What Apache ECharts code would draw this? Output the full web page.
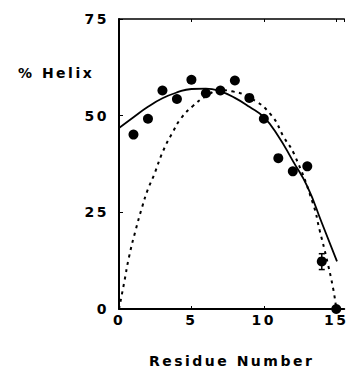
<!DOCTYPE html>
<html>
<head>
<meta charset="utf-8">
<script src="https://cdn.jsdelivr.net/npm/echarts@6/dist/echarts.min.js"></script>
<style>
  html, body { margin: 0; padding: 0; background: #fff; }
  #chart { width: 349px; height: 373px; }
  #chart text { letter-spacing: 2.5px; }
</style>
</head>
<body>
<div id="chart"></div>
<script>
// measured % helix per residue
const residues = [1, 2, 3, 4, 5, 6, 7, 8, 9, 10, 11, 12, 13, 14, 15]
const helix = [45.1, 49.2, 56.5, 54.3, 59.3, 55.8, 56.5, 59.1, 54.6, 49.2, 39.0, 35.6, 36.9, 12.3, 0]
// error bar on residue 14: [x, low, high]
const errorBars = [[14, 10.2, 14.3]]
// fitted curves: [residue, % helix]
const solidFit = [[0, 46.8], [1, 49.6], [2, 52.3], [3, 54.5], [4, 56], [5, 56.9], [6, 57], [7, 56.3],
  [8, 54.6], [9, 52.3], [10, 49.6], [11, 44.7], [12, 38.3], [13, 31.7], [14, 22.3], [15.05, 12.3]]
const dottedFit = [[0, 0], [0.35, 6.7], [0.7, 13.6], [1.15, 20.4], [1.6, 26.4], [2, 31], [2.4, 34.5],
  [3.05, 40.9], [3.75, 46], [4.3, 49.4], [5.1, 52.5], [6, 55], [7, 56.6], [7.8, 56.3], [9.1, 54.5],
  [10.5, 50.2], [11.4, 44.3], [12.1, 40], [13.4, 27.2], [13.85, 20.4], [14.3, 13.6], [14.8, 5], [15, 0]]
const xTicks = [0, 5, 10, 15]
const yTicks = [0, 25, 50, 75]

const font = 'DejaVu Sans'
const chart = echarts.init(document.getElementById('chart'), null, { renderer: 'svg' })

const option = {
  animation: false,
  backgroundColor: '#fff',
  title: {
    text: '% Helix',
    left: 13,
    top: 61,
    textStyle: { fontFamily: font, fontSize: 14, fontWeight: 'bold', color: '#000' }
  },
  grid: { left: 119, top: 19, right: 0, bottom: 60 },
  xAxis: [{
    type: 'value',
    min: 0,
    max: 15.55,
    interval: 5,
    position: 'bottom',
    name: 'Residue Number',
    nameLocation: 'middle',
    nameGap: 45,
    nameTextStyle: { fontFamily: font, fontSize: 14, fontWeight: 'bold', color: '#000' },
    axisLine: { lineStyle: { color: '#000', width: 2 } },
    axisTick: { inside: true, length: 3, lineStyle: { color: '#000', width: 1 } },
    axisLabel: {
      fontFamily: font, fontSize: 14, fontWeight: 'bold', color: '#000', margin: 4,
      showMaxLabel: false,
      formatter: v => xTicks.includes(v) ? String(v) : ''
    },
    splitLine: { show: false }
  }, {
    type: 'value',
    min: 0,
    max: 15.55,
    interval: 5,
    position: 'top',
    axisLine: { lineStyle: { color: '#000', width: 1.5 } },
    axisTick: { inside: true, length: 3, lineStyle: { color: '#000', width: 1 } },
    axisLabel: { show: false },
    splitLine: { show: false }
  }],
  yAxis: {
    type: 'value',
    min: 0,
    max: 75,
    interval: 25,
    axisLine: { show: true, lineStyle: { color: '#000', width: 2 } },
    axisTick: { show: true, inside: true, length: 4, lineStyle: { color: '#000', width: 1 } },
    axisLabel: {
      fontFamily: font, fontSize: 14, fontWeight: 'bold', color: '#000', margin: 10,
      formatter: v => yTicks.includes(v) ? String(v) : ''
    },
    splitLine: { show: false }
  },
  series: [{
    type: 'line',
    data: solidFit,
    smooth: true,
    symbol: 'none',
    lineStyle: { color: '#000', width: 1.8 }
  }, {
    type: 'line',
    data: dottedFit,
    smooth: true,
    symbol: 'none',
    lineStyle: { color: '#000', width: 2, type: [3, 4.5] }
  }, {
    type: 'custom',
    data: errorBars,
    encode: { x: 0, y: [1, 2] },
    renderItem: function (params, api) {
      const x = api.value(0)
      const lo = api.coord([x, api.value(1)])
      const hi = api.coord([x, api.value(2)])
      const st = { stroke: '#000', lineWidth: 1.5 }
      return {
        type: 'group',
        children: [
          { type: 'line', shape: { x1: lo[0], y1: lo[1], x2: hi[0], y2: hi[1] }, style: st },
          { type: 'line', shape: { x1: lo[0] - 3, y1: lo[1], x2: lo[0] + 3, y2: lo[1] }, style: st },
          { type: 'line', shape: { x1: hi[0] - 3, y1: hi[1], x2: hi[0] + 3, y2: hi[1] }, style: st }
        ]
      }
    },
    z: 3
  }, {
    type: 'scatter',
    data: residues.map((r, i) => [r, helix[i]]),
    symbol: 'circle',
    symbolSize: 10,
    itemStyle: { color: '#000', opacity: 1 },
    z: 4
  }]
}

chart.setOption(option)
window.addEventListener('resize', () => {
  chart.resize()
})
</script>
</body>
</html>
